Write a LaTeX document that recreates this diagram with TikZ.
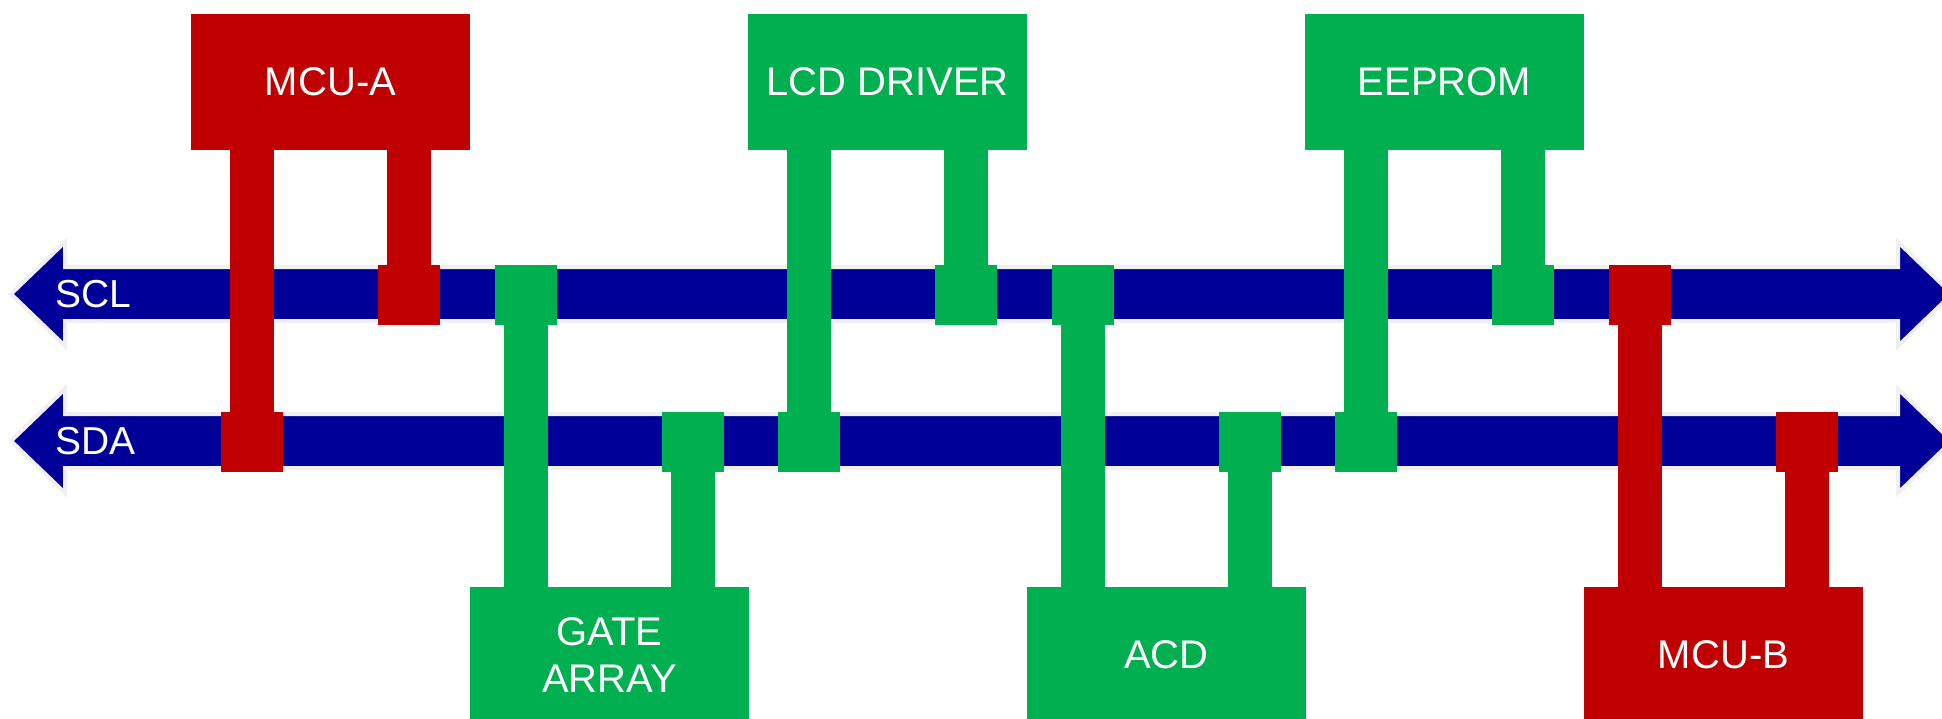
\documentclass[tikz,border=0pt]{standalone}
\usepackage{fontspec}
\setmainfont{Liberation Sans}
\definecolor{busblue}{HTML}{000099}
\definecolor{mred}{HTML}{C00000}
\definecolor{mgreen}{HTML}{00B050}
\definecolor{busedge}{HTML}{F0F0F0}
\begin{document}
\begin{tikzpicture}[x=1pt,y=-1pt,
  module/.style={rectangle, fill=#1, minimum width=279pt, minimum height=136pt, inner sep=0pt, text=white, font=\fontsize{40}{47}\selectfont, align=center},
  pad/.style={rectangle, fill=#1, minimum width=62pt, minimum height=60pt, inner sep=0pt},
  leg/.style={draw=#1, line width=44pt},
  bus/.style={fill=busblue, draw=busedge, line width=4pt, line join=miter},
  buslabel/.style={text=white, font=\fontsize{39}{45}\selectfont, anchor=west, inner sep=0pt}]
\useasboundingbox (0,0) rectangle (1942,719);
\clip (0,0) rectangle (1942,719);
% buses
\foreach \yc/\nm in {294/SCL,441/SDA}{
  \draw[bus] (11,\yc) -- (65,\yc-52) -- (65,\yc-27) -- (1898,\yc-27) -- (1898,\yc-52)
    -- (1952,\yc) -- (1898,\yc+52) -- (1898,\yc+27) -- (65,\yc+27) -- (65,\yc+52) -- cycle;
}
\node[buslabel] (scl) at (55,294) {SCL};
\node[buslabel] (sda) at (55,441) {SDA};
% top modules
\node[module=mred] (mcua) at (330.5,82) {MCU-A};
\node[module=mgreen] (lcd) at (887.5,82) {LCD DRIVER};
\node[module=mgreen] (eeprom) at (1444.5,82) {EEPROM};
% bottom modules
\node[module=mgreen] (gate) at (609.5,655) {GATE\\ARRAY};
\node[module=mgreen] (acd) at (1166.5,655) {ACD};
\node[module=mred] (mcub) at (1723.5,655) {MCU-B};
% pads
\node[pad=mred] (mcuaC) at (409,295) {};
\node[pad=mred] (mcuaD) at (252,442) {};
\node[pad=mgreen] (lcdC) at (966,295) {};
\node[pad=mgreen] (lcdD) at (809,442) {};
\node[pad=mgreen] (eepC) at (1523,295) {};
\node[pad=mgreen] (eepD) at (1366,442) {};
\node[pad=mgreen] (gateC) at (526,295) {};
\node[pad=mgreen] (gateD) at (693,442) {};
\node[pad=mgreen] (acdC) at (1083,295) {};
\node[pad=mgreen] (acdD) at (1250,442) {};
\node[pad=mred] (mcubC) at (1640,295) {};
\node[pad=mred] (mcubD) at (1807,442) {};
% legs
\draw[leg=mred] (mcuaC.center) -- (mcuaC.center |- mcua.south);
\draw[leg=mred] (mcuaD.center) -- (mcuaD.center |- mcua.south);
\draw[leg=mgreen] (lcdC.center) -- (lcdC.center |- lcd.south);
\draw[leg=mgreen] (lcdD.center) -- (lcdD.center |- lcd.south);
\draw[leg=mgreen] (eepC.center) -- (eepC.center |- eeprom.south);
\draw[leg=mgreen] (eepD.center) -- (eepD.center |- eeprom.south);
\draw[leg=mgreen] (gateC.center) -- (gateC.center |- gate.north);
\draw[leg=mgreen] (gateD.center) -- (gateD.center |- gate.north);
\draw[leg=mgreen] (acdC.center) -- (acdC.center |- acd.north);
\draw[leg=mgreen] (acdD.center) -- (acdD.center |- acd.north);
\draw[leg=mred] (mcubC.center) -- (mcubC.center |- mcub.north);
\draw[leg=mred] (mcubD.center) -- (mcubD.center |- mcub.north);
\end{tikzpicture}
\end{document}
